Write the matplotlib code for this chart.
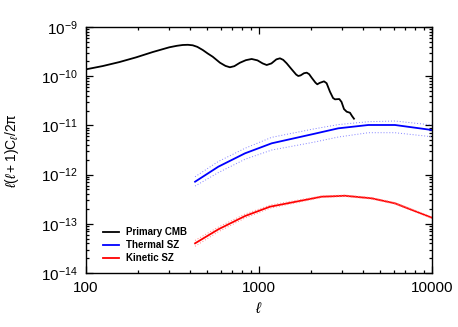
import matplotlib
matplotlib.use("Agg")
import matplotlib.pyplot as plt
from matplotlib.ticker import LogLocator, FixedLocator, FixedFormatter, NullFormatter

plt.rcParams['font.family'] = ['Liberation Sans', 'DejaVu Sans']
plt.rcParams['mathtext.fontset'] = 'custom'
plt.rcParams['mathtext.rm'] = 'Liberation Sans'
plt.rcParams['mathtext.it'] = 'Liberation Sans:italic'
plt.rcParams['mathtext.default'] = 'regular'

# Primary CMB
cmb_l = [100, 125, 156, 195, 243, 303, 335, 362, 388, 414, 440, 473, 505, 540,
         595, 640, 679, 720, 776, 840, 907, 980, 1050, 1108, 1180, 1260, 1322,
         1380, 1445, 1545, 1640, 1687, 1740, 1820, 1888, 1950, 2017, 2120, 2173,
         2240, 2376, 2460, 2572, 2680, 2750, 2912, 3000, 3100, 3213, 3357, 3450,
         3540]
cmb_v = [1.38e-10, 1.61e-10, 1.94e-10, 2.42e-10, 3.10e-10, 3.87e-10, 4.15e-10,
         4.31e-10, 4.35e-10, 4.25e-10, 3.95e-10, 3.41e-10, 2.90e-10, 2.49e-10,
         1.88e-10, 1.62e-10, 1.52e-10, 1.60e-10, 1.88e-10, 2.12e-10, 2.24e-10,
         2.10e-10, 1.82e-10, 1.69e-10, 1.82e-10, 2.20e-10, 2.31e-10, 2.15e-10,
         1.83e-10, 1.38e-10, 1.08e-10, 1.01e-10, 1.04e-10, 1.15e-10, 1.18e-10,
         1.10e-10, 9.3e-11, 7.4e-11, 6.85e-11, 7.3e-11, 7.87e-11, 7.2e-11,
         4.84e-11, 3.6e-11, 3.39e-11, 3.44e-11, 3.0e-11, 2.15e-11, 1.90e-11,
         1.81e-11, 1.55e-11, 1.37e-11]

# Thermal SZ
tsz_l = [427, 582, 830, 1184, 2060, 2873, 4285, 6110, 10000]
tsz_v = [7.18e-13, 1.45e-12, 2.71e-12, 4.33e-12, 6.69e-12, 8.73e-12, 1.02e-11, 1.02e-11, 8.07e-12]
tsz_hi = [9.06e-13, 1.85e-12, 3.43e-12, 5.73e-12, 8.45e-12, 1.04e-11, 1.19e-11, 1.23e-11, 1.02e-11]
tsz_lo = [5.86e-13, 1.10e-12, 2.05e-12, 3.16e-12, 4.54e-12, 5.81e-12, 7.11e-12, 7.11e-12, 5.89e-12]

# Kinetic SZ
ksz_l = [427, 582, 830, 1158, 2060, 2300, 3140, 4480, 6110, 10000]
ksz_v = [4.02e-14, 7.73e-14, 1.44e-13, 2.23e-13, 3.30e-13, 3.56e-13, 3.72e-13, 3.30e-13, 2.61e-13, 1.33e-13]
ksz_hi = [4.6e-14, 8.6e-14, 1.58e-13, 2.40e-13, 3.45e-13, 3.70e-13, 3.85e-13, 3.42e-13, 2.70e-13, 1.38e-13]
ksz_lo = [3.5e-14, 6.9e-14, 1.31e-13, 2.08e-13, 3.16e-13, 3.42e-13, 3.59e-13, 3.18e-13, 2.52e-13, 1.28e-13]

labels = ['Primary CMB', 'Thermal SZ', 'Kinetic SZ']
xticks = [100, 1000, 10000]
xticklabels = ['100', '1000', '10000']

fig = plt.figure(figsize=(4.58, 3.27), dpi=100)
ax = fig.add_axes([0.1878, 0.165, 0.7554, 0.7524])

ax.plot(cmb_l, cmb_v, color='black', lw=1.3, label=labels[0])
ax.plot(tsz_l, tsz_v, color='#0000ff', lw=1.3, label=labels[1])
ax.plot(tsz_l, tsz_hi, color='#8080ff', lw=0.7, ls=(0, (1, 2)))
ax.plot(tsz_l, tsz_lo, color='#8080ff', lw=0.7, ls=(0, (1, 2)))
ax.plot(ksz_l, ksz_v, color='#ff0000', lw=1.3, label=labels[2])
ax.plot(ksz_l, ksz_hi, color='#ff8080', lw=0.7, ls=(0, (1, 2)))
ax.plot(ksz_l, ksz_lo, color='#ff8080', lw=0.7, ls=(0, (1, 2)))

ax.set_xscale('log')
ax.set_yscale('log')
ax.set_xlim(100, 10000)
ax.set_ylim(1e-14, 1e-9)

ax.xaxis.set_major_locator(FixedLocator(xticks))
ax.xaxis.set_major_formatter(FixedFormatter(xticklabels))
ax.xaxis.set_minor_locator(LogLocator(base=10, subs=range(2, 10)))
ax.xaxis.set_minor_formatter(NullFormatter())
ax.yaxis.set_major_locator(LogLocator(base=10, numticks=10))
ax.yaxis.set_minor_locator(LogLocator(base=10, subs=range(2, 10), numticks=20))
ax.yaxis.set_minor_formatter(NullFormatter())

ax.tick_params(which='both', direction='in', top=True, right=True, labelsize=11,
               width=0.9, pad=6)
ax.tick_params(which='major', length=5)
ax.tick_params(which='minor', length=2.5)
for s in ax.spines.values():
    s.set_linewidth(1.0)

ax.set_xlabel(r'$\mathit{\ell}$', fontsize=11, labelpad=4)
ax.set_ylabel(r'$\mathit{\ell}(\mathit{\ell}+1)C_{\mathit{\ell}}/2\pi$', fontsize=10,
              labelpad=14)

leg = ax.legend(loc='lower left', bbox_to_anchor=(0.025, 0.005), frameon=False,
                handlelength=1.6, handletextpad=0.7, labelspacing=0.3,
                prop={'weight': 'bold', 'size': 7})

fig.savefig('out.png', dpi=100)
